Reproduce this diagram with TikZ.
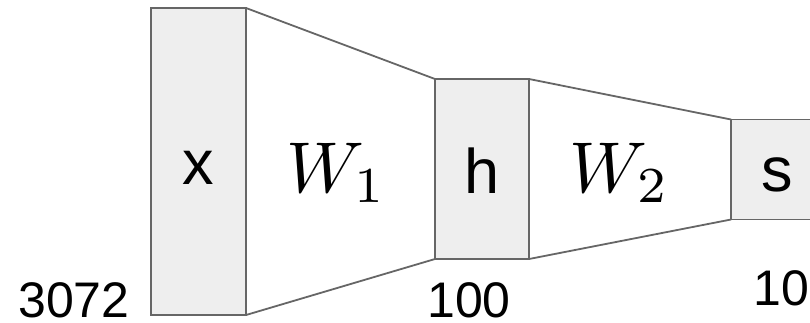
\documentclass[tikz,border=0pt]{standalone}
\usepackage{graphicx}
\usepackage{fontspec}
\newfontfamily\labfont{Liberation Sans}
\definecolor{boxfill}{HTML}{EEEEEE}
\definecolor{boxline}{HTML}{666666}
\newcommand{\bigW}[1]{\scalebox{7.2}{$W_{#1}$}}
\tikzset{
  layerbox/.style={draw=boxline, fill=boxfill, line width=1.8pt, inner sep=0pt, outer sep=0pt},
  link/.style={draw=boxline, line width=1.8pt, line cap=round},
  boxlab/.style={inner sep=0pt, anchor=base, font=\labfont\fontsize{63}{70}\selectfont},
  sizelab/.style={inner sep=0pt, anchor=base, font=\labfont\fontsize{50}{56}\selectfont},
  wlab/.style={inner sep=0pt, anchor=base}
}
\begin{document}
\begin{tikzpicture}[x=1pt,y=-1pt]
\clip (0,0) rectangle (810,322);
\node[layerbox, minimum width=95pt, minimum height=307pt] (x) at (198.5,161.5) {};
\node[layerbox, minimum width=94pt, minimum height=180pt] (h) at (482,169) {};
\node[layerbox, minimum width=94pt, minimum height=100pt] (s) at (778,169.5) {};
\draw[link] (x.north east) -- (h.north west);
\draw[link] (x.south east) -- (h.south west);
\draw[link] (h.north east) -- (s.north west);
\draw[link] (h.south east) -- (s.south west);
\node[boxlab] (xl) at (198,184) {x};
\node[boxlab] (hl) at (482,193) {h};
\node[boxlab] (sl) at (777,191) {s};
\node[wlab] (w1) at (337,192) {\bigW{1}};
\node[wlab] (w2) at (620,192) {\bigW{2}};
\node[sizelab] (n1) at (74,317) {3072};
\node[sizelab] (n2) at (469,317) {100};
\node[sizelab] (n3) at (781,305) {10};
\end{tikzpicture}
\end{document}
